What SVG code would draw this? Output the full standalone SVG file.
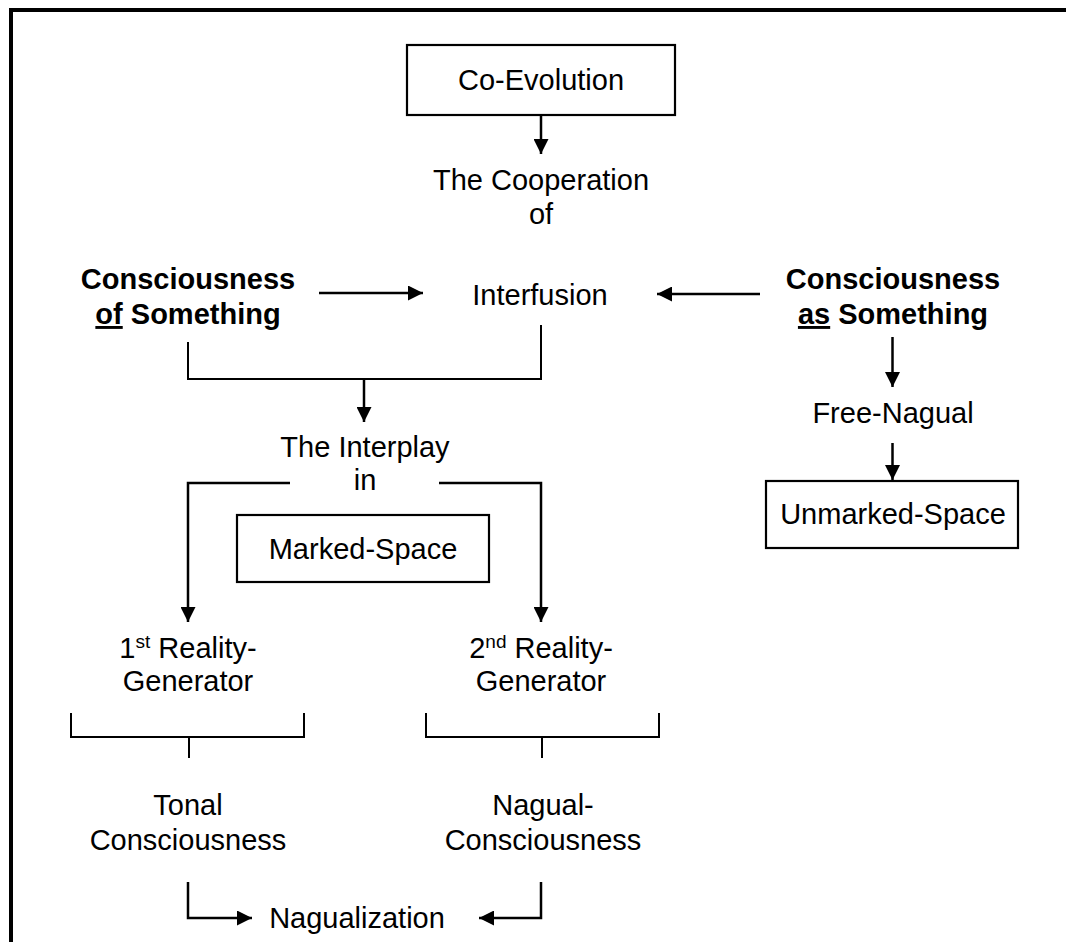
<svg xmlns="http://www.w3.org/2000/svg" width="1066" height="942" viewBox="0 0 1066 942">
<style>
text{font-family:"Liberation Sans",Arial,sans-serif;font-size:29px;fill:#000;text-anchor:middle}
.b{font-weight:bold}
.box{fill:#fff;stroke:#000;stroke-width:2.2}
.c{fill:none;stroke:#000;stroke-width:2.5}
.t{fill:none;stroke:#000;stroke-width:2}
.a{marker-end:url(#ah)}
.sup{font-size:19px}
.u{text-decoration:underline}
</style>
<defs>
<marker id="ah" viewBox="0 0 10 10" refX="10" refY="5" markerWidth="6" markerHeight="6" orient="auto"><path d="M0,0 L10,5 L0,10z" fill="#000"/></marker>
</defs>
<rect width="1066" height="942" fill="#fff"/>
<rect x="11" y="10" width="1100" height="1000" fill="none" stroke="#000" stroke-width="4"/>
<g id="connectors">
<path class="c a" d="M541,115 V154"/>
<path class="c a" d="M319,293 H423"/>
<path class="c a" d="M760,294 H657"/>
<path class="c a" d="M892.5,337 V387"/>
<path class="c a" d="M892.5,443 V480"/>
<path class="t" d="M188,342 V379 H541 V325"/>
<path class="c a" d="M364,379 V422"/>
<path class="c a" d="M290,483 H188 V622"/>
<path class="c a" d="M439,483 H541 V622"/>
<path class="t" d="M71,713 V737 H304 V713 M189,737 V758"/>
<path class="t" d="M426,713 V737 H659 V713 M542,737 V758"/>
<path class="c a" d="M188,882 V918 H252"/>
<path class="c a" d="M541,882 V918 H479"/>
</g>
<g id="coevolution"><rect class="box" x="407" y="45" width="268" height="70"/><text x="541" y="90">Co-Evolution</text></g>
<g id="cooperation"><text x="541" y="190">The Cooperation</text><text x="541" y="224">of</text></g>
<g id="consciousness-of"><text class="b" x="188" y="289">Consciousness</text><text class="b" x="188" y="324"><tspan class="u">of</tspan> Something</text></g>
<g id="interfusion"><text x="540" y="305">Interfusion</text></g>
<g id="consciousness-as"><text class="b" x="893" y="289">Consciousness</text><text class="b" x="893" y="324"><tspan class="u">as</tspan> Something</text></g>
<g id="free-nagual"><text x="893" y="423">Free-Nagual</text></g>
<g id="unmarked-space"><rect class="box" x="766" y="481" width="252" height="67"/><text x="893" y="524">Unmarked-Space</text></g>
<g id="interplay"><text x="365" y="457">The Interplay</text><text x="365" y="490">in</text></g>
<g id="marked-space"><rect class="box" x="237" y="515" width="252" height="67"/><text x="363" y="559">Marked-Space</text></g>
<g id="rg1"><text x="188" y="658">1<tspan class="sup" dy="-10">st</tspan><tspan dy="10"> Reality-</tspan></text><text x="188" y="691">Generator</text></g>
<g id="rg2"><text x="541" y="658">2<tspan class="sup" dy="-10">nd</tspan><tspan dy="10"> Reality-</tspan></text><text x="541" y="691">Generator</text></g>
<g id="tonal"><text x="188" y="815">Tonal</text><text x="188" y="850">Consciousness</text></g>
<g id="nagual"><text x="543" y="815">Nagual-</text><text x="543" y="850">Consciousness</text></g>
<g id="nagualization"><text x="357" y="928">Nagualization</text></g>
</svg>
